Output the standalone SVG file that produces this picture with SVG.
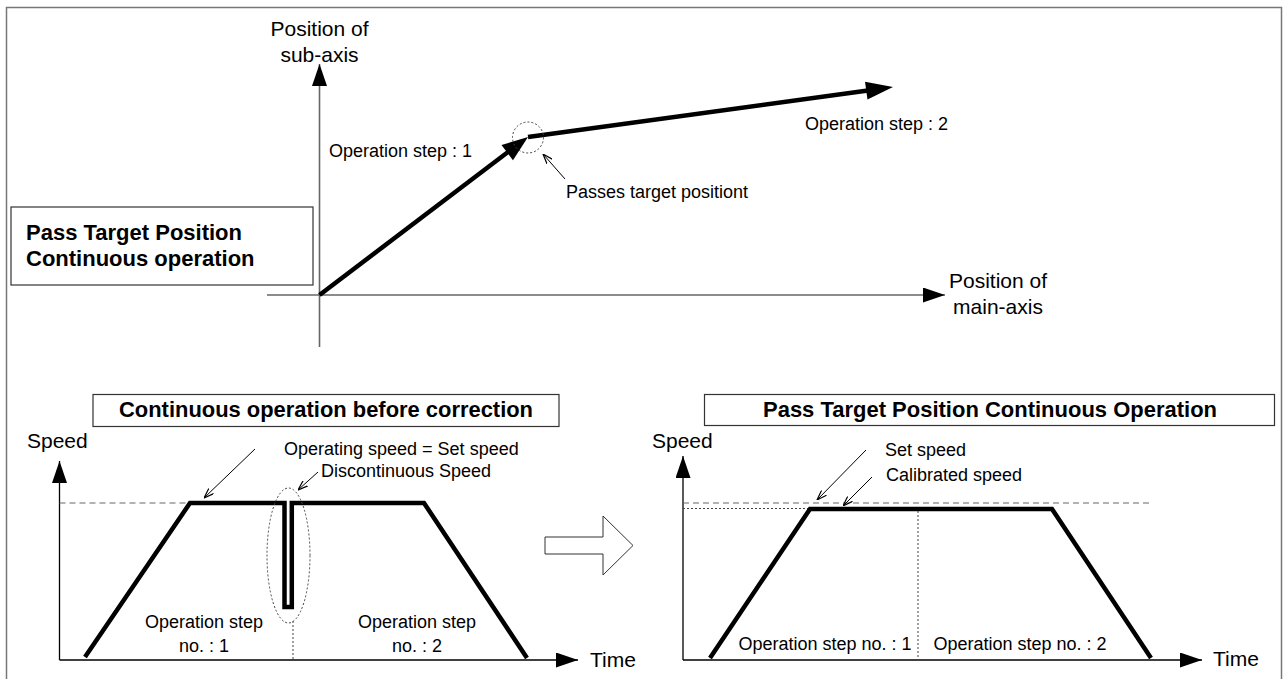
<svg xmlns="http://www.w3.org/2000/svg" width="1287" height="679" viewBox="0 0 1287 679">
<style>
text{font-family:"Liberation Sans",Arial,sans-serif;fill:#000}
.s{font-size:18px}
.l{font-size:21px}
.b{font-size:22px;font-weight:bold}
.thick{fill:none;stroke:#000;stroke-width:4.5;stroke-linejoin:miter}
.ax{fill:none;stroke:#000;stroke-width:1.3}
.gax{fill:none;stroke:#666;stroke-width:1.6}
.dash{fill:none;stroke:#666;stroke-width:1;stroke-dasharray:6,4}
.dot{fill:none;stroke:#444;stroke-width:1;stroke-dasharray:2,2}
.ptr{fill:none;stroke:#000;stroke-width:1}
.box{fill:#fff;stroke:#333;stroke-width:1.2}
.frame{fill:none;stroke:#777;stroke-width:1.5}
</style>
<defs>
<marker id="axh" viewBox="0 0 22 15" refX="22" refY="7.5" markerWidth="22" markerHeight="15" orient="auto" markerUnits="userSpaceOnUse"><path d="M0,0 L22,7.5 L0,15 z" fill="#000"/></marker>
<marker id="pa" viewBox="0 0 10 8" refX="10" refY="4" markerWidth="10" markerHeight="8" orient="auto" markerUnits="userSpaceOnUse"><path d="M0,0.5 L10,4 L0,7.5" fill="none" stroke="#000" stroke-width="1.2"/></marker>
</defs>

<path class="frame" d="M6.5,681 V7.5 H1281.5 V681"/>

<g id="top-title">
<rect class="box" x="11" y="207" width="302" height="78"/>
<text class="b" x="26" y="240">Pass Target Position</text>
<text class="b" x="26" y="266">Continuous operation</text>
</g>

<g id="top-axes">
<line class="gax" x1="319.5" y1="347" x2="319.5" y2="64" marker-end="url(#axh)"/>
<line class="gax" x1="267" y1="295" x2="945" y2="295" marker-end="url(#axh)"/>
<text class="l" x="319.5" y="36" text-anchor="middle">Position of</text>
<text class="l" x="319.5" y="62" text-anchor="middle">sub-axis</text>
<text class="l" x="998" y="288" text-anchor="middle">Position of</text>
<text class="l" x="998" y="314" text-anchor="middle">main-axis</text>
</g>

<g id="top-path">
<line class="thick" x1="319.5" y1="295" x2="510" y2="150.5"/>
<polygon points="528,137 512.98,160.26 501.52,145.1" fill="#000"/>
<line class="thick" x1="528" y1="137" x2="868" y2="90.4"/>
<polygon points="893,87 867.47,99.58 865.03,81.74" fill="#000"/>
<circle class="dot" cx="528" cy="137.5" r="15.5"/>
<text class="s" x="329" y="157">Operation step : 1</text>
<text class="s" x="805" y="130">Operation step : 2</text>
<line class="ptr" x1="565" y1="179" x2="543" y2="154" marker-end="url(#pa)"/>
<text class="s" x="566" y="198">Passes target positiont</text>
</g>

<g id="left-chart">
<rect class="box" x="93" y="394.5" width="466" height="32"/>
<text class="b" x="119" y="416.5" textLength="414" lengthAdjust="spacingAndGlyphs">Continuous operation before correction</text>
<text class="l" x="27" y="448">Speed</text>
<line class="ax" x1="59.5" y1="660" x2="59.5" y2="461" marker-end="url(#axh)"/>
<line class="ax" x1="59.5" y1="660" x2="578" y2="660" marker-end="url(#axh)"/>
<text class="l" x="590" y="667">Time</text>
<line class="dash" x1="59.5" y1="503" x2="190" y2="503"/>
<path class="thick" d="M85,657 L190,503 L284.5,503 L284.5,607 L291.8,607 L291.8,503 L424,503 L527,658"/>
<ellipse class="dot" cx="288.5" cy="555.5" rx="21.5" ry="67.5"/>
<line class="dot" x1="293" y1="621" x2="293" y2="660"/>
<text class="s" x="284" y="455">Operating speed = Set speed</text>
<text class="s" x="321" y="477">Discontinuous Speed</text>
<line class="ptr" x1="255" y1="449" x2="204" y2="498" marker-end="url(#pa)"/>
<line class="ptr" x1="318" y1="472" x2="298" y2="490" marker-end="url(#pa)"/>
<text class="s" x="204" y="628" text-anchor="middle">Operation step</text>
<text class="s" x="204" y="652" text-anchor="middle">no. : 1</text>
<text class="s" x="417" y="628" text-anchor="middle">Operation step</text>
<text class="s" x="417" y="652" text-anchor="middle">no. : 2</text>
</g>

<g id="transition-arrow">
<polygon points="545,537 603,537 603,516 633,545.5 603,575 603,554 545,554" fill="#fff" stroke="#333" stroke-width="1"/>
</g>

<g id="right-chart">
<rect class="box" x="704.5" y="394.5" width="570" height="31"/>
<text class="b" x="763" y="417" textLength="454" lengthAdjust="spacingAndGlyphs">Pass Target Position Continuous Operation</text>
<text class="l" x="652" y="448">Speed</text>
<line class="ax" x1="683" y1="660" x2="683" y2="456" marker-end="url(#axh)"/>
<line class="ax" x1="683" y1="660" x2="1202" y2="660" marker-end="url(#axh)"/>
<text class="l" x="1213" y="666">Time</text>
<line class="dash" x1="683" y1="503" x2="1153" y2="503"/>
<line class="dot" x1="683" y1="508.5" x2="810" y2="508.5"/>
<path class="thick" d="M710,658 L810,509 L1052,509 L1151,658"/>
<line class="dot" x1="918" y1="511" x2="918" y2="660"/>
<text class="s" x="885" y="456">Set speed</text>
<text class="s" x="886" y="481">Calibrated speed</text>
<line class="ptr" x1="866" y1="450" x2="817" y2="500" marker-end="url(#pa)"/>
<line class="ptr" x1="872" y1="477" x2="843" y2="506" marker-end="url(#pa)"/>
<text class="s" x="738.5" y="650">Operation step no. : 1</text>
<text class="s" x="933.5" y="650">Operation step no. : 2</text>
</g>
</svg>
